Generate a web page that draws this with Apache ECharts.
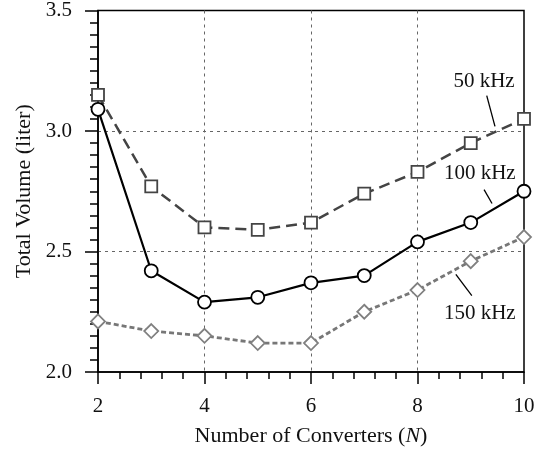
<!DOCTYPE html>
<html>
<head>
<meta charset="utf-8">
<script src="https://cdn.jsdelivr.net/npm/echarts@6/dist/echarts.min.js"></script>
<style>
  html, body { margin: 0; padding: 0; background: #fff; }
  #chart { width: 542px; height: 453px; }
</style>
</head>
<body>
<div id="chart"></div>
<script>
// number of converters
var converters = [2, 3, 4, 5, 6, 7, 8, 9, 10];
// total volume (liter) per switching frequency
var vol50k = [3.15, 2.77, 2.60, 2.59, 2.62, 2.74, 2.83, 2.95, 3.05];
var vol100k = [3.09, 2.42, 2.29, 2.31, 2.37, 2.40, 2.54, 2.62, 2.75];
var vol150k = [2.21, 2.17, 2.15, 2.12, 2.12, 2.25, 2.34, 2.46, 2.56];
var seriesNames = ['50 kHz', '100 kHz', '150 kHz'];

var serif = '"Liberation Serif", "DejaVu Serif", serif';
var fs = 21;      // tick labels and notes
var fsName = 22;  // axis titles

function pairs(vals) {
    return converters.map(function (n, i) { return [n, vals[i]]; });
}

var chart = echarts.init(document.getElementById('chart'));

var dashGrid = { show: true, showMinLine: false, showMaxLine: false,
    lineStyle: { color: '#666', width: 1, type: [3, 4] } };

var option = {
    animation: false,
    backgroundColor: '#fff',
    grid: { left: 98, right: 18, top: 10, bottom: 81, show: true,
        borderColor: '#000', borderWidth: 1.5, backgroundColor: 'transparent' },
    xAxis: {
        type: 'value', min: 2, max: 10, interval: 2,
        name: 'Number of Converters ({i|N})',
        nameLocation: 'middle', nameGap: 53,
        nameTextStyle: { fontFamily: serif, fontSize: fsName, color: '#111',
            rich: { i: { fontFamily: serif, fontSize: fsName, fontStyle: 'italic', color: '#111' } } },
        axisLine: { lineStyle: { color: '#000', width: 1.5 } },
        axisTick: { show: true, length: 12, lineStyle: { color: '#000', width: 1.5 } },
        minorTick: { show: true, splitNumber: 5, length: 7, lineStyle: { color: '#000', width: 1.5 } },
        axisLabel: { fontFamily: serif, fontSize: fs, color: '#111', margin: 24 },
        splitLine: dashGrid
    },
    yAxis: {
        type: 'value', min: 2, max: 3.5, interval: 0.5,
        name: 'Total Volume (liter)',
        nameLocation: 'middle', nameGap: 63, nameRotate: 90,
        nameTextStyle: { fontFamily: serif, fontSize: fsName, color: '#111' },
        axisLine: { show: true, lineStyle: { color: '#000', width: 1.5 } },
        axisTick: { show: true, length: 13, lineStyle: { color: '#000', width: 1.5 } },
        minorTick: { show: true, splitNumber: 10, length: 8, lineStyle: { color: '#000', width: 1.5 } },
        axisLabel: { fontFamily: serif, fontSize: fs, color: '#111', margin: 26,
            formatter: function (v) { return v.toFixed(1); } },
        splitLine: dashGrid
    },
    series: [
        {
            name: seriesNames[0], type: 'line', data: pairs(vol50k),
            symbol: 'rect', symbolSize: 12,
            lineStyle: { color: '#444', width: 2.5, type: [11, 6] },
            itemStyle: { color: '#fff', borderColor: '#444', borderWidth: 1.8 },
            z: 3
        },
        {
            name: seriesNames[1], type: 'line', data: pairs(vol100k),
            symbol: 'circle', symbolSize: 13,
            lineStyle: { color: '#000', width: 2.2 },
            itemStyle: { color: '#fff', borderColor: '#000', borderWidth: 1.8 },
            z: 4
        },
        {
            name: seriesNames[2], type: 'line', data: pairs(vol150k),
            symbol: 'diamond', symbolSize: 14,
            lineStyle: { color: '#777', width: 2.8, type: [5, 3] },
            itemStyle: { color: '#fff', borderColor: '#808080', borderWidth: 1.8 },
            z: 2
        }
    ]
};

chart.setOption(option);

// frequency labels with leader lines (positions in data units)
var notes = [
    { text: seriesNames[0], at: [9.25, 3.205], from: [9.30, 3.147], to: [9.455, 3.019] },
    { text: seriesNames[1], at: [9.17, 2.824], from: [9.25, 2.757], to: [9.40, 2.699] },
    { text: seriesNames[2], at: [9.17, 2.243], from: [8.72, 2.405], to: [9.02, 2.317] }
];
var graphics = [];
notes.forEach(function (n) {
    var p = chart.convertToPixel({ gridIndex: 0 }, n.at);
    var a = chart.convertToPixel({ gridIndex: 0 }, n.from);
    var b = chart.convertToPixel({ gridIndex: 0 }, n.to);
    graphics.push({
        type: 'text', x: p[0], y: p[1], z: 10,
        style: { text: n.text, fontFamily: serif, fontSize: fs, fill: '#111',
            align: 'center', verticalAlign: 'middle', backgroundColor: '#fff' }
    });
    graphics.push({
        type: 'line', z: 10,
        shape: { x1: a[0], y1: a[1], x2: b[0], y2: b[1] },
        style: { stroke: '#000', lineWidth: 1.3 }
    });
});
chart.setOption({ graphic: graphics });
</script>
</body>
</html>
